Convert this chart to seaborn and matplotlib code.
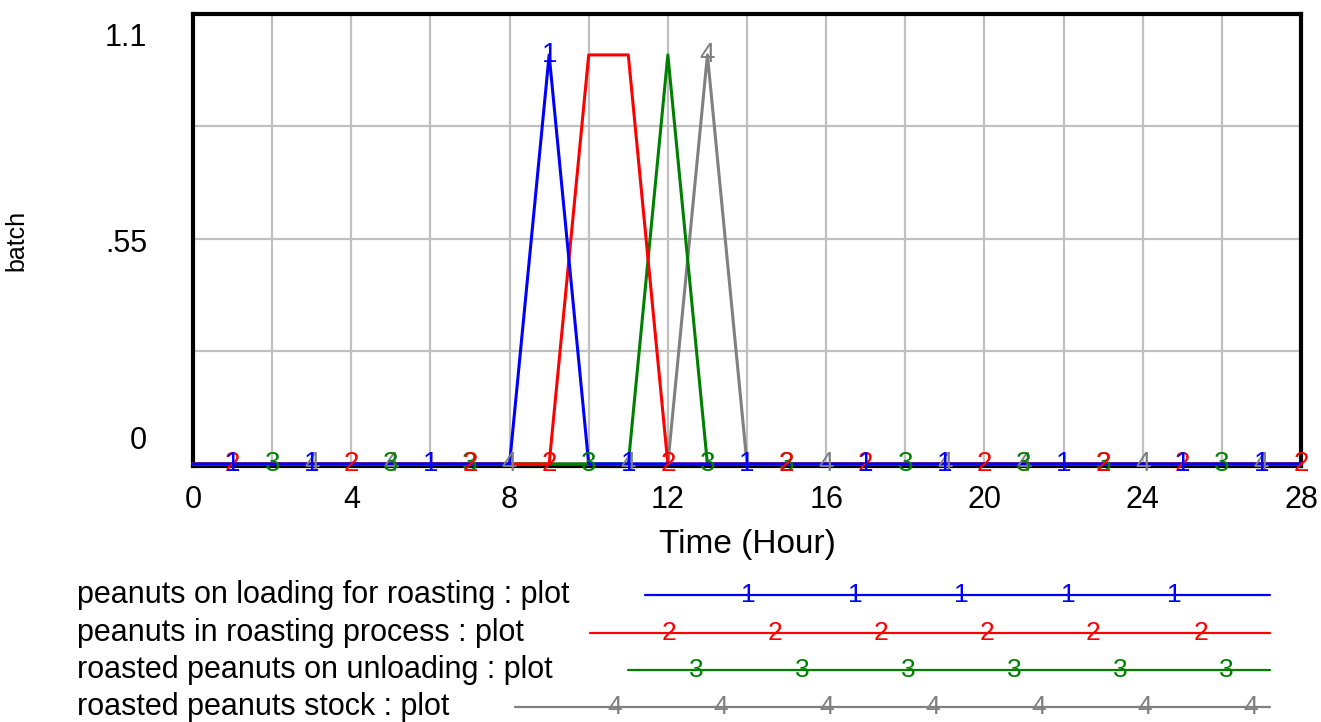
import numpy as np
import pandas as pd
import matplotlib
matplotlib.use("Agg")
import matplotlib.pyplot as plt
import matplotlib.transforms as mtransforms
import seaborn as sns

# ---- data ----
hours = list(range(0, 29))
loading = [0, 0, 0, 0, 0, 0, 0, 0, 0, 1, 0, 0, 0, 0, 0, 0, 0, 0, 0, 0, 0, 0, 0, 0, 0, 0, 0, 0, 0]
roasting = [0, 0, 0, 0, 0, 0, 0, 0, 0, 0, 1, 1, 0, 0, 0, 0, 0, 0, 0, 0, 0, 0, 0, 0, 0, 0, 0, 0, 0]
unloading = [0, 0, 0, 0, 0, 0, 0, 0, 0, 0, 0, 0, 1, 0, 0, 0, 0, 0, 0, 0, 0, 0, 0, 0, 0, 0, 0, 0, 0]
stock = [0, 0, 0, 0, 0, 0, 0, 0, 0, 0, 0, 0, 0, 1, 0, 0, 0, 0, 0, 0, 0, 0, 0, 0, 0, 0, 0, 0, 0]

series_names = [
    "peanuts on loading for roasting : plot",
    "peanuts in roasting process : plot",
    "roasted peanuts on unloading : plot",
    "roasted peanuts stock : plot",
]
series_ids = ["1", "2", "3", "4"]
series_values = [loading, roasting, unloading, stock]
colors = ["#0000ff", "#ff0000", "#008000", "#808080"]

# hours at which the numeric series markers are drawn
marker_hours = [
    [1, 3, 6, 9, 11, 14, 17, 19, 22, 25, 27],
    [1, 4, 7, 9, 12, 15, 17, 20, 23, 25, 28],
    [2, 5, 7, 10, 13, 15, 18, 21, 23, 26],
    [3, 5, 8, 11, 13, 16, 19, 21, 24, 27],
]

x_ticks = [0, 4, 8, 12, 16, 20, 24, 28]
y_ticks = [0, 0.55, 1.1]
y_tick_labels = ["0", ".55", "1.1"]

# ---- figure ----
sns.set_theme(style="white")
plt.rcParams["font.family"] = ["Liberation Sans", "DejaVu Sans"]

W, H = 1321, 722
fig = plt.figure(figsize=(W / 100, H / 100), dpi=100)
ax = fig.add_axes([193 / W, 1 - 466 / H, (1301 - 193) / W, (466 - 14) / H])

rows = []
for name, vals in zip(series_names, series_values):
    for h, v in zip(hours, vals):
        rows.append({"Time": h, "value": v, "series": name})
df = pd.DataFrame(rows)

palette = dict(zip(series_names, colors))
draw_order = series_names[::-1]  # gray first, blue on top
sns.lineplot(data=df, x="Time", y="value", hue="series", hue_order=draw_order,
             palette=palette, linewidth=2.2, legend=False, ax=ax, zorder=3)
for ln in ax.get_lines():
    ln.set_clip_on(False)

# numeric markers on the lines
for idx in [3, 2, 1, 0]:
    vals = series_values[idx]
    for h in marker_hours[idx]:
        ax.text(h, vals[h], series_ids[idx], color=colors[idx], fontsize=20,
                ha="center", va="center", zorder=4, clip_on=False)

ax.set_xlim(0, 28)
ax.set_ylim(-0.005, 1.1)
ax.set_xticks(x_ticks)
ax.set_xticklabels([str(t) for t in x_ticks])
ax.set_xticks(list(range(2, 28, 4)), minor=True)
ax.set_yticks(y_ticks)
ax.set_yticklabels(y_tick_labels)
ax.set_yticks([0.275, 0.825], minor=True)
ax.grid(True, which="both", color="#c0c0c0", linewidth=1.6)
ax.set_axisbelow(True)

ax.tick_params(axis="x", which="both", length=0, pad=14, labelsize=22, colors="black")
ax.tick_params(axis="y", which="both", length=0, pad=33, labelsize=22, colors="black")

for sp in ax.spines.values():
    sp.set_visible(True)
    sp.set_color("black")
    sp.set_linewidth(3)

# vertical placement of y tick labels (Vensim style)
offsets = {"0": 26, ".55": -2, "1.1": -21}
for lab in ax.get_yticklabels():
    dy = offsets.get(lab.get_text(), 0)
    lab.set_transform(lab.get_transform() + mtransforms.ScaledTranslation(0, dy / 100, fig.dpi_scale_trans))

ax.set_xlabel("Time (Hour)", fontsize=24, labelpad=10, color="black")
ax.set_ylabel("batch", fontsize=18, color="black")
ax.yaxis.set_label_coords((28 - 193) / (1301 - 193), 0.5)

# ---- legend (Vensim style) ----
lax = fig.add_axes([0, 0, 1, 1], zorder=-1)
lax.set_xlim(0, W)
lax.set_ylim(H, 0)
lax.axis("off")
legend_rows_y = [595, 633, 670, 707]
legend_line_start = [645, 590, 628, 515]
legend_line_end = 1270
legend_marker_x = [
    [748, 855, 961, 1068, 1174],
    [669, 775, 881, 987, 1093, 1201],
    [696, 802, 908, 1014, 1120, 1226],
    [615, 721, 827, 933, 1039, 1145, 1251],
]
for i in range(4):
    y = legend_rows_y[i]
    lax.text(77, y + 8, series_names[i], fontsize=22, ha="left", va="baseline", color="black")
    lax.plot([legend_line_start[i], legend_line_end], [y, y], color=colors[i], linewidth=1.6)
    for mx in legend_marker_x[i]:
        lax.text(mx, y, series_ids[i], color=colors[i], fontsize=19, ha="center", va="center")

fig.savefig("out.png", dpi=100, facecolor="white")
